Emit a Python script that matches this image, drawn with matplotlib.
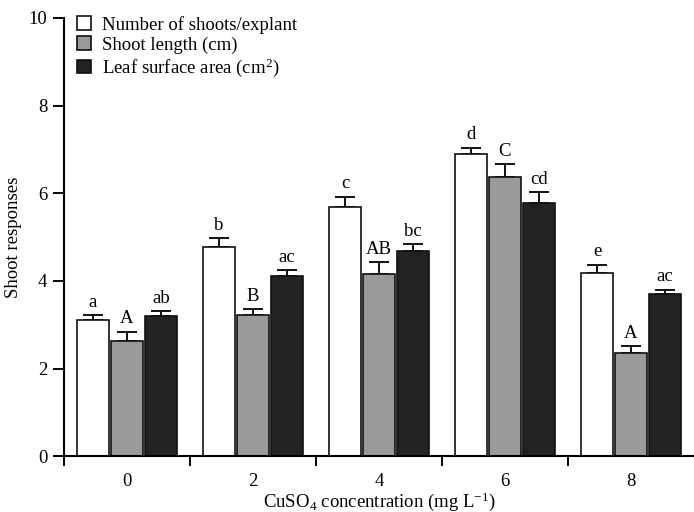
import matplotlib
matplotlib.use('Agg')
import matplotlib.pyplot as plt
from matplotlib.ticker import FixedLocator
import numpy as np

plt.rcParams['font.family'] = ['Liberation Serif', 'DejaVu Serif']
plt.rcParams['mathtext.fontset'] = 'custom'
plt.rcParams['mathtext.rm'] = 'Liberation Serif'
plt.rcParams['mathtext.it'] = 'Liberation Serif:italic'
plt.rcParams['font.size'] = 13.5

concentrations = ['0', '2', '4', '6', '8']
series_names = ['Number of shoots/explant', 'Shoot length (cm)',
                'Leaf surface area (cm$^2$)']

shoots = [3.10, 4.78, 5.69, 6.89, 4.19]
shoots_err = [0.12, 0.19, 0.23, 0.15, 0.18]
shoots_sig = ['a', 'b', 'c', 'd', 'e']

length = [2.63, 3.22, 4.16, 6.38, 2.36]
length_err = [0.21, 0.13, 0.26, 0.28, 0.15]
length_sig = ['A', 'B', 'AB', 'C', 'A']

leaf = [3.20, 4.12, 4.69, 5.78, 3.71]
leaf_err = [0.11, 0.13, 0.15, 0.24, 0.09]
leaf_sig = ['ab', 'ac', 'bc', 'cd', 'ac']

colors = ['#ffffff', '#999a9b', '#222222']
fs = 13.5

fig = plt.figure(figsize=(6.94, 5.12), dpi=100)
ax = fig.add_axes([0.0922, 0.109, 0.9078, 0.856])

x = np.arange(len(concentrations))
width = 0.254
step = 0.27
groups = [(shoots, shoots_err, shoots_sig),
          (length, length_err, length_sig),
          (leaf, leaf_err, leaf_sig)]

for i, (vals, errs, sigs) in enumerate(groups):
    pos = x + (i - 1) * step
    ax.bar(pos, vals, width, color=colors[i], edgecolor='#111111',
           linewidth=1.2, label=series_names[i], zorder=2)
    ax.errorbar(pos, vals, yerr=[np.zeros(len(errs)), errs], fmt='none',
                ecolor='#111111', elinewidth=1.4, capsize=7.5, capthick=1.4,
                zorder=1)
    for p, v, e, s in zip(pos, vals, errs, sigs):
        ax.text(p, v + e + 0.1, s, ha='center', va='bottom', fontsize=fs)

ax.set_xlim(-0.5, len(concentrations) - 0.5)
ax.set_ylim(0, 10)
ax.set_yticks([0, 2, 4, 6, 8, 10])

# ticks between groups, labels at group centres
ax.xaxis.set_major_locator(FixedLocator(np.arange(len(concentrations)) - 0.5))
ax.xaxis.set_minor_locator(FixedLocator(x))
ax.set_xticklabels([], minor=False)
ax.set_xticklabels(concentrations, minor=True)
ax.tick_params(axis='x', which='major', length=7, width=1.4, direction='out')
ax.tick_params(axis='x', which='minor', length=0, pad=12, labelsize=fs)
ax.tick_params(axis='y', length=8, width=1.4, direction='out', labelsize=fs,
               pad=4)

for side in ['top', 'right']:
    ax.spines[side].set_visible(False)
for side in ['left', 'bottom']:
    ax.spines[side].set_linewidth(1.5)

ax.set_ylabel('Shoot responses', fontsize=fs)
ax.yaxis.set_label_coords(-0.067, 0.5)
ax.set_xlabel('CuSO$_4$ concentration (mg L$^{-1}$)', fontsize=fs)
ax.xaxis.set_label_coords(0.5, -0.078)

leg = ax.legend(loc='upper left', bbox_to_anchor=(0.0, 1.035), frameon=False,
                fontsize=fs, handlelength=0.75, handleheight=0.75,
                handletextpad=0.6, labelspacing=0.15, borderaxespad=0.3)

fig.savefig('out.png', dpi=100)
